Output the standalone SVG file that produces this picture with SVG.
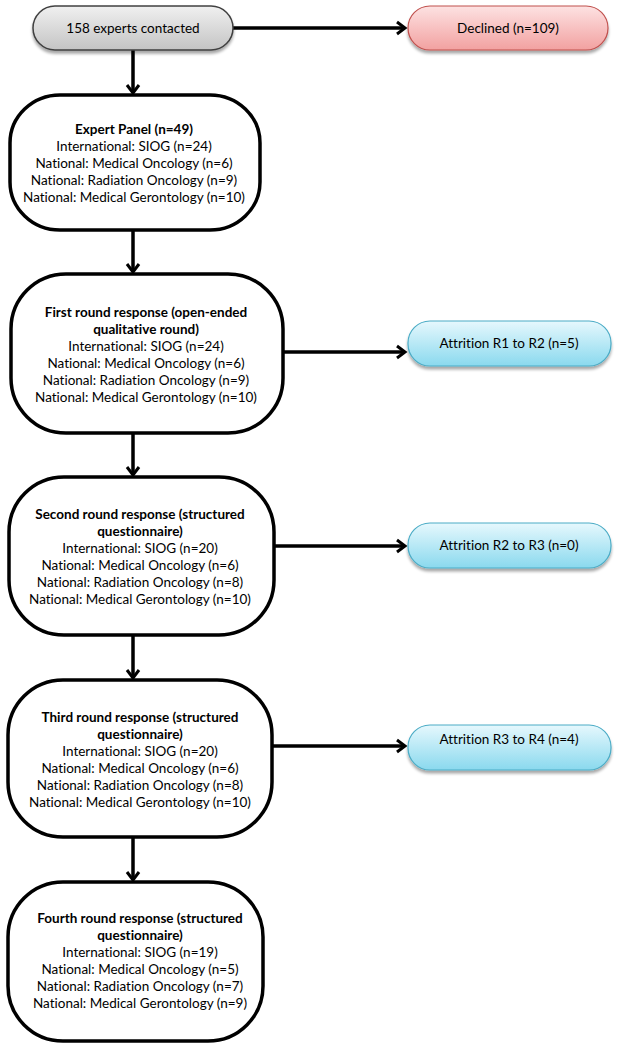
<svg xmlns="http://www.w3.org/2000/svg" width="618" height="1050" viewBox="0 0 618 1050">
<defs>
<linearGradient id="gGray" x1="0" y1="0" x2="0" y2="1"><stop offset="0" stop-color="#f0f0f0"/><stop offset="1" stop-color="#c4c4c4"/></linearGradient>
<linearGradient id="gRed" x1="0" y1="0" x2="0" y2="1"><stop offset="0" stop-color="#fde2e2"/><stop offset="1" stop-color="#f2a1a0"/></linearGradient>
<linearGradient id="gBlue" x1="0" y1="0" x2="0" y2="1"><stop offset="0" stop-color="#e6f8fd"/><stop offset="1" stop-color="#8ad9ee"/></linearGradient>
<filter id="sh" x="-10%" y="-20%" width="120%" height="150%"><feGaussianBlur in="SourceAlpha" stdDeviation="1.5"/><feOffset dy="2.5"/><feComponentTransfer><feFuncA type="linear" slope="0.35"/></feComponentTransfer><feMerge><feMergeNode/><feMergeNode in="SourceGraphic"/></feMerge></filter>
<marker id="arr" markerUnits="userSpaceOnUse" markerWidth="16" markerHeight="16" refX="10" refY="7" orient="auto" viewBox="0 0 16 14">
<path d="M2,1 L10,7 L2,13" fill="none" stroke="#000" stroke-width="3" stroke-linejoin="miter"/>
</marker>
</defs>
<style>
text{font-family:Lato,"Liberation Sans",sans-serif;font-size:13.5px;fill:#000;text-anchor:middle;font-variant-ligatures:none}
.b{font-weight:bold}
.big{fill:#fff;stroke:#000;stroke-width:3.5}
.gray{fill:url(#gGray);stroke:#404040;stroke-width:1.5}
.red{fill:url(#gRed);stroke:#c0504d;stroke-width:1.2}
.blue{fill:url(#gBlue);stroke:#4bacc6;stroke-width:1.2}
.c{fill:none;stroke:#000;stroke-width:3.5;marker-end:url(#arr)}
</style>
<g id="connectors">
<line class="c" x1="233" y1="28" x2="405" y2="28"/>
<line class="c" x1="133" y1="50" x2="133" y2="93"/>
<line class="c" x1="133" y1="230" x2="133" y2="272"/>
<line class="c" x1="133" y1="433" x2="133" y2="475"/>
<line class="c" x1="133" y1="635" x2="133" y2="678"/>
<line class="c" x1="133" y1="837" x2="133" y2="880"/>
<line class="c" x1="283" y1="352" x2="405" y2="352"/>
<line class="c" x1="274" y1="546" x2="405" y2="546"/>
<line class="c" x1="272" y1="746" x2="405" y2="746"/>
</g>
<g id="n-contacted">
<rect class="gray" filter="url(#sh)" x="33" y="6" width="200" height="44" rx="22"/>
<text x="133" y="33">158 experts contacted</text>
</g>
<g id="n-declined">
<rect class="red" filter="url(#sh)" x="408" y="6" width="200" height="44" rx="22"/>
<text x="508" y="33">Declined (n=109)</text>
</g>
<g id="n-panel">
<rect class="big" x="10" y="95" width="250" height="135" rx="50" ry="48"/>
<text class="b" x="134" y="134">Expert Panel (n=49)</text>
<text x="134" y="151">International: SIOG (n=24)</text>
<text x="134" y="168">National: Medical Oncology (n=6)</text>
<text x="134" y="185">National: Radiation Oncology (n=9)</text>
<text x="134" y="202">National: Medical Gerontology (n=10)</text>
</g>
<g id="n-round1">
<rect class="big" x="11" y="274" width="272" height="159" rx="55" ry="55"/>
<text class="b" x="146" y="317">First round response (open-ended</text>
<text class="b" x="146" y="334">qualitative round)</text>
<text x="146" y="351">International: SIOG (n=24)</text>
<text x="146" y="368">National: Medical Oncology (n=6)</text>
<text x="146" y="385">National: Radiation Oncology (n=9)</text>
<text x="146" y="402">National: Medical Gerontology (n=10)</text>
</g>
<g id="n-attr1">
<rect class="blue" filter="url(#sh)" x="408" y="321" width="203" height="45" rx="22"/>
<text x="509" y="348">Attrition R1 to R2 (n=5)</text>
</g>
<g id="n-round2">
<rect class="big" x="9" y="477" width="265" height="158" rx="55" ry="55"/>
<text class="b" x="140" y="519">Second round response (structured</text>
<text class="b" x="140" y="536">questionnaire)</text>
<text x="140" y="553">International: SIOG (n=20)</text>
<text x="140" y="570">National: Medical Oncology (n=6)</text>
<text x="140" y="587">National: Radiation Oncology (n=8)</text>
<text x="140" y="604">National: Medical Gerontology (n=10)</text>
</g>
<g id="n-attr2">
<rect class="blue" filter="url(#sh)" x="408" y="523" width="203" height="45" rx="22"/>
<text x="509" y="550">Attrition R2 to R3 (n=0)</text>
</g>
<g id="n-round3">
<rect class="big" x="8" y="680" width="264" height="157" rx="55" ry="55"/>
<text class="b" x="140" y="722">Third round response (structured</text>
<text class="b" x="140" y="739">questionnaire)</text>
<text x="140" y="756">International: SIOG (n=20)</text>
<text x="140" y="773">National: Medical Oncology (n=6)</text>
<text x="140" y="790">National: Radiation Oncology (n=8)</text>
<text x="140" y="807">National: Medical Gerontology (n=10)</text>
</g>
<g id="n-attr3">
<rect class="blue" filter="url(#sh)" x="408" y="725" width="203" height="45" rx="22"/>
<text x="509" y="744">Attrition R3 to R4 (n=4)</text>
</g>
<g id="n-round4">
<rect class="big" x="8" y="882" width="255" height="159" rx="55" ry="55"/>
<text class="b" x="140" y="923">Fourth round response (structured</text>
<text class="b" x="140" y="940">questionnaire)</text>
<text x="140" y="957">International: SIOG (n=19)</text>
<text x="140" y="974">National: Medical Oncology (n=5)</text>
<text x="140" y="991">National: Radiation Oncology (n=7)</text>
<text x="140" y="1008">National: Medical Gerontology (n=9)</text>
</g>
</svg>
